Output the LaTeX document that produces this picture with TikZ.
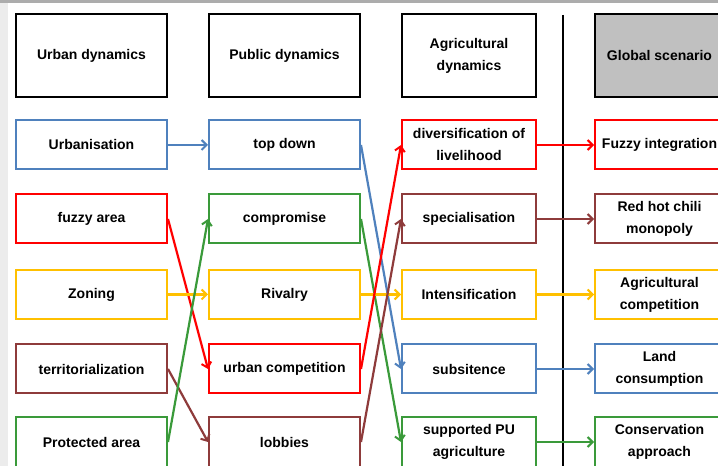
\documentclass[tikz,border=0pt]{standalone}
\usepackage{fontspec}
\setmainfont{Liberation Sans}
\usetikzlibrary{arrows.meta}
\definecolor{cblue}{HTML}{4F81BD}
\definecolor{cred}{HTML}{FF0000}
\definecolor{cgreen}{HTML}{3A9A3A}
\definecolor{cyellow}{HTML}{FFC000}
\definecolor{cbrown}{HTML}{8E3B3B}
\definecolor{cgray}{HTML}{C0C0C0}
\begin{document}
\begin{tikzpicture}[x=1pt,y=1pt,
  box/.style={draw, line width=2pt, minimum height=49pt, inner sep=0pt, align=center,
    font=\bfseries\fontsize{14}{22}\selectfont},
  wideA/.style={box, minimum width=151pt},
  wideB/.style={box, minimum width=134pt},
  wideC/.style={box, minimum width=129pt},
  head/.style={minimum height=83pt, draw=black},
  conn/.style={line width=2.2pt, -{Straight Barb[length=5pt,width=10pt,line width=2pt]}}
]
\useasboundingbox (0,0) rectangle (718,466);
\fill[white] (0,0) rectangle (718,466);
\fill[gray!15] (0,0) rectangle (8,463);
\fill[gray!65] (0,463) rectangle (718,466);

% headers
\node[wideA, head] (h1) at (91.5,410.5) {Urban dynamics};
\node[wideA, head] (h2) at (284.5,410.5) {Public dynamics};
\node[wideB, head] (h3) at (469,410.5) {Agricultural\\dynamics};
\node[wideC, head, fill=cgray] (h4) at (659.5,410.5) {Global scenario};

% column 1
\node[wideA, draw=cblue] (a1) at (91.5,321) {Urbanisation};
\node[wideA, draw=cred] (a2) at (91.5,247) {fuzzy area};
\node[wideA, draw=cyellow] (a3) at (91.5,171.5) {Zoning};
\node[wideA, draw=cbrown] (a4) at (91.5,97) {territorialization};
\node[wideA, draw=cgreen, minimum height=50pt] (a5) at (91.5,24) {Protected area};

% column 2
\node[wideA, draw=cblue] (b1) at (284.5,321) {top down};
\node[wideA, draw=cgreen] (b2) at (284.5,247) {compromise};
\node[wideA, draw=cyellow] (b3) at (284.5,171.5) {Rivalry};
\node[wideA, draw=cred] (b4) at (284.5,97) {urban competition};
\node[wideA, draw=cbrown, minimum height=50pt] (b5) at (284.5,24) {lobbies};

% column 3
\node[wideB, draw=cred] (c1) at (469,321) {diversification of\\livelihood};
\node[wideB, draw=cbrown] (c2) at (469,247) {specialisation};
\node[wideB, draw=cyellow] (c3) at (469,171.5) {Intensification};
\node[wideB, draw=cblue] (c4) at (469,97) {subsitence};
\node[wideB, draw=cgreen, minimum height=50pt] (c5) at (469,24) {supported PU\\agriculture};

% column 4
\node[wideC, draw=cred] (d1) at (659.5,321) {Fuzzy integration};
\node[wideC, draw=cbrown] (d2) at (659.5,247) {Red hot chili\\monopoly};
\node[wideC, draw=cyellow] (d3) at (659.5,171.5) {Agricultural\\competition};
\node[wideC, draw=cblue] (d4) at (659.5,97) {Land\\consumption};
\node[wideC, draw=cgreen, minimum height=50pt] (d5) at (659.5,24) {Conservation\\approach};

% separator
\coordinate (vtop) at (563,451);
\coordinate (vbot) at (563,-2);
\draw[line width=2pt] (vtop) -- (vbot);

% connectors col1 -> col2
\draw[conn, cblue] (a1.east) -- (b1.west);
\draw[conn, cred] (a2.east) -- (b4.west);
\draw[conn, cyellow] (a3.east) -- (b3.west);
\draw[conn, cbrown] (a4.east) -- (b5.west);
\draw[conn, cgreen] (a5.east) -- (b2.west);

% connectors col2 -> col3
\draw[conn, cblue] (b1.east) -- (c4.west);
\draw[conn, cgreen] (b2.east) -- (c5.west);
\draw[conn, cyellow] (b3.east) -- (c3.west);
\draw[conn, cred] (b4.east) -- (c1.west);
\draw[conn, cbrown] (b5.east) -- (c2.west);

% connectors col3 -> col4
\draw[conn, cred] (c1.east) -- (d1.west);
\draw[conn, cbrown] (c2.east) -- (d2.west);
\draw[conn, cyellow] (c3.east) -- (d3.west);
\draw[conn, cblue] (c4.east) -- (d4.west);
\draw[conn, cgreen] (c5.east) -- (d5.west);
\end{tikzpicture}
\end{document}
